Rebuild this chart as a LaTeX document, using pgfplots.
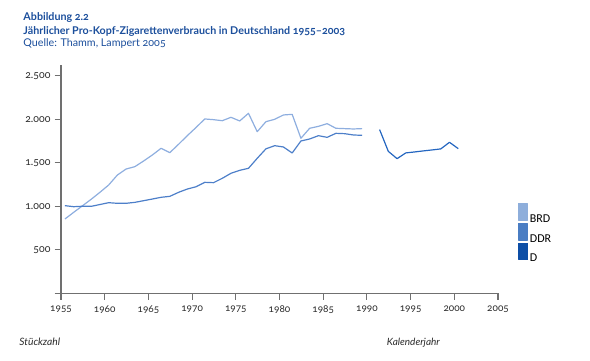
\documentclass[border=0pt]{standalone}
\usepackage{fontspec}
\setmainfont{Lato}[Numbers=OldStyle]
\newfontfamily\legfont{Carlito}
\usepackage{pgfplots}
\usepackage{pgfplotstable}
\pgfplotsset{compat=1.18}
\definecolor{brdline}{HTML}{8EAEDF}
\definecolor{ddrline}{HTML}{4D7FC9}
\definecolor{dline}{HTML}{2466C0}
\definecolor{brdbox}{HTML}{8EAEDB}
\definecolor{ddrbox}{HTML}{4A7DC3}
\definecolor{dbox}{HTML}{0D4EA6}
\definecolor{titleblue}{HTML}{1C4F9C}
\definecolor{axisgray}{HTML}{707070}
\definecolor{labelgray}{HTML}{2A2A2A}

\pgfplotstableread{
year value
1955 854
1956 930
1957 1005
1958 1080
1959 1160
1960 1244
1961 1359
1962 1428
1963 1455
1964 1520
1965 1589
1966 1666
1967 1616
1968 1712
1969 1811
1970 1905
1971 2003
1972 1995
1973 1983
1974 2022
1975 1980
1976 2068
1977 1857
1978 1972
1979 1999
1980 2049
1981 2056
1982 1781
1983 1896
1984 1918
1985 1949
1986 1896
1987 1892
1988 1888
1989 1892
}\brd

\pgfplotstableread{
year value
1955 1007
1956 995
1957 1000
1958 999
1959 1020
1960 1041
1961 1034
1962 1034
1963 1045
1964 1064
1965 1083
1966 1103
1967 1114
1968 1160
1969 1198
1970 1224
1971 1275
1972 1271
1973 1321
1974 1379
1975 1413
1976 1436
1977 1551
1978 1660
1979 1696
1980 1681
1981 1612
1982 1750
1983 1773
1984 1811
1985 1792
1986 1838
1987 1834
1988 1819
1989 1815
}\ddr

\pgfplotstableread{
year value
1991 1881
1992 1631
1993 1547
1994 1613
1995 1624
1996 1636
1997 1647
1998 1659
1999 1735
2000 1662
}\dtab

\begin{document}
\begin{tikzpicture}[x=1bp,y=1bp]
\useasboundingbox (0,0) rectangle (590,360);
% titles
\node[anchor=base west,inner sep=0,text=titleblue,font=\bfseries\fontsize{10.7bp}{12bp}\selectfont] at (23.3,340) {Abbildung 2.2};
\node[anchor=base west,inner sep=0,text=titleblue,font=\bfseries\fontsize{10.7bp}{12bp}\selectfont] at (23.3,325.7) {Jährlicher Pro-Kopf-Zigarettenverbrauch in Deutschland 1955–2003};
\node[anchor=base west,inner sep=0,text=titleblue,font=\fontsize{10.7bp}{12bp}\selectfont] at (23.3,313.3) {Quelle: Thamm, Lampert 2005};
\node[anchor=base west,inner sep=0,text=labelgray,font=\itshape\fontsize{10.2bp}{12bp}\selectfont] at (19.3,15) {Stückzahl};
\node[anchor=base east,inner sep=0,text=labelgray,font=\itshape\fontsize{10bp}{12bp}\selectfont] at (440,15) {Kalenderjahr};
\begin{axis}[
  at={(61bp,66.7bp)}, anchor=south west,
  scale only axis, width=437bp, height=228.3bp,
  xmin=1955, xmax=2005, ymin=0, ymax=2623,
  axis lines=left, axis line style={-, axisgray, line width=1.1bp},
  tick style={axisgray, line width=1.1bp},
  tick align=outside, major tick length=6.5bp,
  xtick={1955,1960,...,2005},
  xticklabels={1955,1960,1965,1970,1975,1980,1985,1990,1995,2000,2005},
  ytick={0,500,1000,1500,2000,2500},
  yticklabels={,500,1.000,1.500,2.000,2.500},
  xticklabel style={font=\fontsize{10bp}{11bp}\selectfont, text=labelgray, yshift=-2.5bp},
  yticklabel style={font=\fontsize{10.5bp}{12bp}\selectfont, text=labelgray, xshift=-0.5bp},
  clip=false,
  legend style={at={(1.0458,0.3955)}, anchor=north west, draw=none, fill=none,
    inner sep=0pt, row sep=-2.5bp, font=\legfont\fontsize{12bp}{14bp}\selectfont,
    nodes={inner sep=1.5bp}},
  legend cell align=left,
  every axis plot/.append style={line width=1.2bp, line join=round},
]
\addplot[brdline, forget plot] table[x expr=\thisrow{year}+0.45, y=value] {\brd};
\addplot[ddrline, forget plot] table[x expr=\thisrow{year}+0.45, y=value] {\ddr};
\addplot[dline, forget plot] table[x expr=\thisrow{year}+0.45, y=value] {\dtab};
\addlegendimage{legend image code/.code={\fill[brdbox] (0bp,-1bp) rectangle (9bp,15.5bp);}}
\addlegendentry{BRD}
\addlegendimage{legend image code/.code={\fill[ddrbox] (0bp,-1bp) rectangle (9bp,15.5bp);}}
\addlegendentry{DDR}
\addlegendimage{legend image code/.code={\fill[dbox] (0bp,-1bp) rectangle (9bp,15.5bp);}}
\addlegendentry{D}
\end{axis}
\end{tikzpicture}
\end{document}
